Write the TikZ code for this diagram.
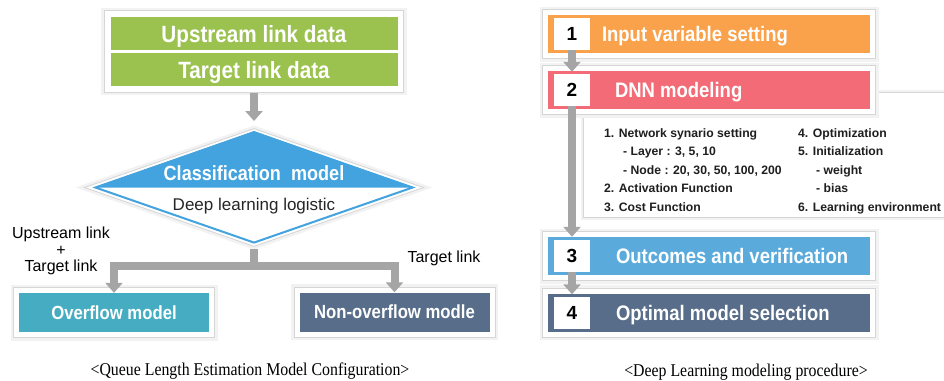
\documentclass[tikz,border=0pt]{standalone}
\usepackage{fontspec}
\setmainfont{Liberation Serif}
\newfontfamily\boxfont[FakeStretch=0.88]{Liberation Sans}
\newfontfamily\lblfont{Liberation Sans}
\newfontfamily\capfont[FakeStretch=0.88]{Liberation Serif}
\usetikzlibrary{positioning,fit,backgrounds,shapes.geometric,arrows.meta}

\definecolor{datagreen}{HTML}{9BC24F}
\definecolor{clsblue}{HTML}{42A3DF}
\definecolor{ovfteal}{HTML}{45ACC1}
\definecolor{slate}{HTML}{576D89}
\definecolor{inporange}{HTML}{F9A24B}
\definecolor{dnnpink}{HTML}{F36B77}
\definecolor{outblue}{HTML}{5AABDC}
\definecolor{flowgray}{HTML}{A5A5A5}

\tikzset{
  framed/.style={preaction={draw=black!5, line width=#1+7pt},
                 preaction={draw=black!16, line width=#1+2pt},
                 preaction={draw=white, line width=#1}},
  framed/.default=10pt,
  databar/.style={fill=datagreen, minimum width=287pt, minimum height=33pt,
                  inner sep=0pt, text=white, text depth=0pt,
                  font=\boxfont\bfseries\fontsize{23.5}{24}\selectfont},
  modelbox/.style={framed, minimum width=190pt, minimum height=39pt,
                   inner sep=0pt, text=white, text depth=0pt,
                   font=\boxfont\bfseries\fontsize{19}{19}\selectfont},
  classdia/.style={diamond, framed=6pt, draw=clsblue, line width=2pt, fill=white,
                   minimum width=318pt, minimum height=111pt, inner sep=0pt},
  stepbox/.style={framed, minimum width=322pt, minimum height=38pt, inner sep=0pt},
  steptext/.style={inner sep=0pt, text=white, text depth=0pt,
                   font=\boxfont\bfseries\fontsize{21}{21}\selectfont},
  numsq/.style={fill=white, minimum width=36pt, minimum height=32pt, inner sep=0pt,
                text depth=0pt, font=\lblfont\bfseries\fontsize{19}{19}\selectfont},
  specpanel/.style={fill=white, draw=black!16, line width=1pt,
                    preaction={draw=black!5, line width=5pt},
                    minimum width=367pt, minimum height=125pt, inner sep=0pt},
  spectext/.style={inner sep=0pt, text=black!88,
                   font=\lblfont\bfseries\fontsize{12.2}{15}\selectfont},
  lbl/.style={inner sep=0pt, font=\lblfont\fontsize{16}{16.6}\selectfont},
  capt/.style={inner sep=0pt, font=\capfont\fontsize{18}{18}\selectfont},
  flowline/.style={draw=flowgray, line width=8pt},
  flow/.style={flowline, -{Triangle[width=17pt,length=10pt]}}
}

\begin{document}
\begin{tikzpicture}[x=1pt, y=-1pt]
  \useasboundingbox (0,0) rectangle (944,380);

  % ---- queue length model: input data ----
  \node[databar] (up)  at (254,33.5) {Upstream link data};
  \node[databar] (tgt) at (254,69.5) {Target link data};
  \begin{scope}[on background layer]
    \node[fit=(up)(tgt), inner sep=6pt, fill=white, draw=black!16, line width=1pt,
          preaction={draw=black!5, line width=6pt}] (data) {};
  \end{scope}

  % classifier
  \node[classdia] (cls) at (254,187.5) {};
  \fill[clsblue] (cls.west) -- (cls.north) -- (cls.east) -- cycle;
  \node[steptext, font=\boxfont\bfseries\fontsize{20.5}{21}\selectfont] (clstxt) at (254,173) {Classification\hspace{0.25em} model};
  \node[inner sep=0pt, text depth=0pt, text=black!85,
        font=\lblfont\fontsize{17}{17}\selectfont] (clssub) at (254,204.3) {Deep learning logistic};

  % the two models
  \node[modelbox, fill=ovfteal] (ovf) at (114,312.5) {Overflow model};
  \node[modelbox, fill=slate] (novf) at (394.5,312) {Non-overflow modle};

  \node[lbl, align=center] (both) at (61,251) {Upstream link\\+\\Target link};
  \node[lbl] (only) at (444,258) {Target link};

  % connectors
  \coordinate (split) at (254,266);
  \draw[flow, shorten >=10pt] (data.south) -- (cls.north);
  \draw[flowline, shorten <=5pt] (cls.south) -- (split);
  \draw[flow] (split) -| (ovf.north);
  \draw[flow] (split) -| (novf.north);

  \node[capt] (cap1) at (250,371) {<Queue Length Estimation Model Configuration>};

  % ---- deep learning procedure ----
  \node[specpanel] (spec) at (766.5,154.5) {};

  \node[stepbox, fill=inporange] (inp) at (709,34) {};
  \node[stepbox, fill=dnnpink] (dnn) at (709,90) {};
  \node[stepbox, fill=outblue] (res) at (709,256) {};
  \node[stepbox, fill=slate] (sel) at (709,312.5) {};

  \node[numsq, right=6pt of inp.west] (n1) {1};
  \node[numsq, right=6pt of dnn.west] (n2) {2};
  \node[numsq, right=6pt of res.west] (n3) {3};
  \node[numsq, right=6pt of sel.west] (n4) {4};

  \node[steptext, right=54pt of inp.west] (t1) {Input variable setting};
  \node[steptext, right=67pt of dnn.west] (t2) {DNN modeling};
  \node[steptext, right=68pt of res.west] (t3) {Outcomes and verification};
  \node[steptext, right=68pt of sel.west] (t4) {Optimal model selection};

  \draw[flow, shorten >=2pt] (n1.south) -- (n2.north);
  \draw[flow, shorten >=3pt] (n2.south) -- (n3.north);
  \draw[flow, shorten >=2pt] (n3.south) -- (n4.north);

  % modeling settings
  \foreach \xx/\yy/\txt [count=\i] in {
      604/137/{1. Network synario setting},
      623/155.5/{- Layer : 3, 5, 10},
      623/174/{- Node : 20, 30, 50, 100, 200},
      604/192.5/{2. Activation Function},
      604/211/{3. Cost Function},
      798/137/{4. Optimization},
      798/155.5/{5. Initialization},
      816/174/{- weight},
      816/192.5/{- bias},
      798/211/{6. Learning environment}}
    \node[spectext, anchor=base west] (d\i) at (\xx,\yy) {\txt};

  \node[capt] (cap2) at (746,372.5) {<Deep Learning modeling procedure>};
\end{tikzpicture}
\end{document}
